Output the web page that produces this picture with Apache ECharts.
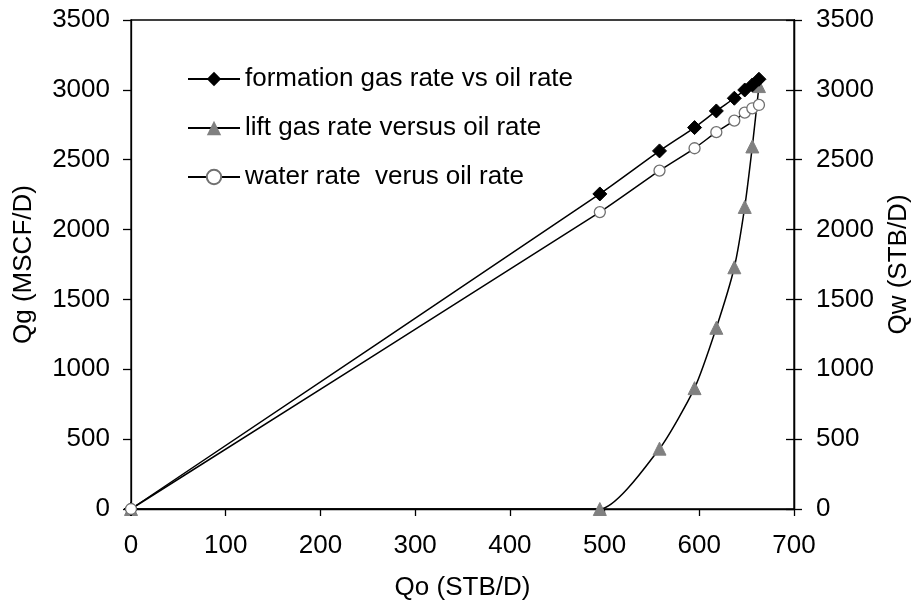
<!DOCTYPE html>
<html>
<head>
<meta charset="utf-8">
<script src="https://cdn.jsdelivr.net/npm/echarts@6/dist/echarts.min.js"></script>
<style>
  html, body { margin: 0; padding: 0; background: #fff; }
  #chart { width: 920px; height: 611px; }
</style>
</head>
<body>
<div id="chart"></div>
<script>
// Oil rate (STB/D) for each operating point
const oilRate = [0, 495, 558, 595, 618, 637, 648, 656, 663];
// Formation gas rate (MSCF/D)
const formationGas = [0, 2255, 2563, 2730, 2849, 2940, 2999, 3035, 3076];
// Lift gas rate (MSCF/D)
const liftGas = [0, 0, 432, 865, 1297, 1730, 2162, 2595, 3027];
// Water rate (STB/D), right axis
const waterRate = [0, 2125, 2422, 2582, 2697, 2780, 2837, 2868, 2892];

const pairs = (xs, ys) => xs.map((x, i) => [x, ys[i]]);
const plain = v => String(v);

const FONT = '"Liberation Sans", Arial, sans-serif';
const txt = { color: '#000', fontFamily: FONT, fontSize: 26 };

const chart = echarts.init(document.getElementById('chart'), null, { renderer: 'canvas' });

const yBase = {
  type: 'value', min: 0, max: 3500, interval: 500,
  splitLine: { show: false },
  nameLocation: 'middle', nameRotate: 90,
  nameTextStyle: txt,
  axisLine: { show: true, lineStyle: { color: '#000', width: 1.3 } }
};

chart.setOption({
  animation: false,
  backgroundColor: '#fff',
  grid: {
    left: 131, right: 117, top: 20, bottom: 102,
    show: true, borderColor: '#000', borderWidth: 1.3, backgroundColor: 'transparent'
  },
  legend: {
    orient: 'vertical', left: 182, top: 61, itemGap: 23,
    itemWidth: 52, itemHeight: 18,
    textStyle: txt,
    data: ['formation gas rate vs oil rate', 'lift gas rate versus oil rate', 'water rate  verus oil rate']
  },
  xAxis: {
    type: 'value', min: 0, max: 700, interval: 100,
    name: 'Qo (STB/D)', nameLocation: 'middle', nameGap: 66, nameTextStyle: txt,
    splitLine: { show: false },
    axisLine: { lineStyle: { color: '#000', width: 1.3 } },
    axisTick: { length: 7, lineStyle: { color: '#000', width: 1.3 } },
    axisLabel: Object.assign({ margin: 24, formatter: plain }, txt)
  },
  yAxis: [
    Object.assign({}, yBase, {
      position: 'left', name: 'Qg (MSCF/D)', nameGap: 94,
      axisTick: { length: 8, lineStyle: { color: '#000', width: 1.3 } },
      axisLabel: Object.assign({ margin: 21, formatter: plain }, txt)
    }),
    Object.assign({}, yBase, {
      position: 'right', name: 'Qw (STB/D)', nameGap: 92,
      axisTick: { length: 8, lineStyle: { color: '#000', width: 1.3 } },
      axisLabel: Object.assign({ margin: 22, formatter: plain }, txt)
    }),
    // inner half of the crossing ticks on the right axis
    Object.assign({}, yBase, {
      position: 'right', name: '',
      axisTick: { inside: true, length: 8, lineStyle: { color: '#000', width: 1.3 } },
      axisLabel: { show: false }
    })
  ],
  series: [
    {
      name: 'formation gas rate vs oil rate', type: 'line', yAxisIndex: 0,
      data: pairs(oilRate, formationGas), smooth: 0.2,
      symbol: 'diamond', symbolSize: 14,
      lineStyle: { color: '#000', width: 1.5 },
      itemStyle: { color: '#000', borderColor: '#000' },
      z: 4
    },
    {
      name: 'lift gas rate versus oil rate', type: 'line', yAxisIndex: 0,
      data: pairs(oilRate, liftGas), smooth: 0.2,
      symbol: 'triangle', symbolSize: 13,
      lineStyle: { color: '#000', width: 1.5 },
      itemStyle: { color: '#808080', borderColor: '#808080' },
      z: 3
    },
    {
      name: 'water rate  verus oil rate', type: 'line', yAxisIndex: 1,
      data: pairs(oilRate, waterRate), smooth: 0.2,
      symbol: 'circle', symbolSize: 11,
      lineStyle: { color: '#000', width: 1.5 },
      itemStyle: { color: '#fff', borderColor: '#707070', borderWidth: 1.3 },
      z: 5
    }
  ]
});
</script>
</body>
</html>
